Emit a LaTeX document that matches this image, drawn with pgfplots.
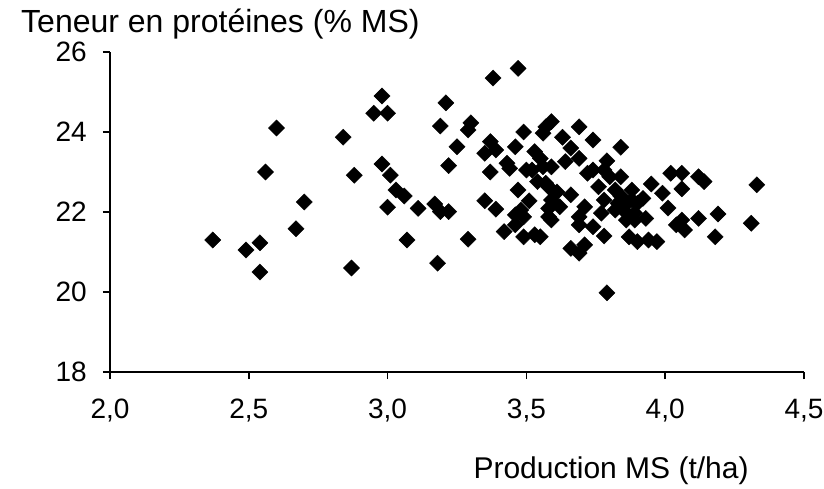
\documentclass[border=0pt]{standalone}
\usepackage{fontspec}
\setmainfont{Liberation Sans}
\usepackage{pgfplots}
\pgfplotsset{compat=1.18}
\begin{document}
\fontsize{30}{36}\selectfont
\begin{tikzpicture}
  \begin{axis}[
    scale only axis,
    width=694pt, height=320pt,
    xmin=2, xmax=4.5, ymin=18, ymax=26,
    xtick={2,2.5,...,4.5}, ytick={18,20,...,26},
    axis x line=bottom, axis y line=left,
    axis line style={-, line width=1.6pt},
    every tick/.style={black, line width=1.6pt},
    tick align=outside, major tick length=7pt,
    tick label style={font=\fontsize{28}{34}\selectfont},
    xticklabel style={/pgf/number format/use comma, /pgf/number format/fixed,
      /pgf/number format/fixed zerofill, /pgf/number format/precision=1,
      /pgf/number format/assume math mode=true, yshift=-10pt},
    yticklabel style={/pgf/number format/assume math mode=true, xshift=-6pt},
    xlabel={Production MS (t/ha)},
    xlabel style={at={(rel axis cs:0.722,0)}, anchor=base, yshift=-106pt},
    ylabel={Teneur en protéines (\% MS)},
    ylabel style={rotate=-90, at={(rel axis cs:0,1)}, anchor=base west, xshift=-99pt, yshift=20pt,
      font=\fontsize{32}{38}\selectfont},
    clip=false,
  ]
    \addplot[only marks, mark=square*, mark size=5.7pt, mark options={rotate=45, fill=black, draw=black}]
    table {
x y
2.37 21.30
2.49 21.05
2.54 21.23
2.54 20.50
2.56 23.00
2.60 24.10
2.67 21.58
2.70 22.25
2.84 23.87
2.87 20.60
2.88 22.92
2.95 24.47
2.98 24.90
3.00 24.47
2.98 23.20
3.01 22.92
3.00 22.12
3.03 22.55
3.06 22.40
3.07 21.30
3.11 22.09
3.17 22.20
3.19 22.01
3.22 22.01
3.18 20.72
3.19 24.15
3.21 24.73
3.22 23.16
3.25 23.63
3.29 21.32
3.29 24.05
3.30 24.23
3.35 22.28
3.39 22.07
3.37 23.76
3.39 23.55
3.35 23.47
3.37 23.00
3.46 23.63
3.43 23.22
3.44 23.09
3.49 24.00
3.57 24.13
3.59 24.26
3.53 23.51
3.52 23.05
3.56 23.13
3.47 22.55
3.38 25.35
3.47 25.59
3.51 22.28
3.46 21.93
3.49 21.88
3.42 21.51
3.46 21.68
3.49 21.38
3.53 21.43
3.58 21.88
3.59 22.30
3.58 22.63
3.54 22.76
3.69 24.13
3.74 23.80
3.63 23.87
3.84 23.62
3.66 23.60
3.69 23.34
3.79 23.28
3.64 23.26
3.56 23.97
3.55 23.34
3.50 23.05
3.59 23.13
3.74 23.05
3.72 22.97
3.78 23.05
3.84 22.88
3.80 22.88
3.88 22.55
3.82 22.55
3.76 22.63
3.90 22.22
3.83 22.22
3.78 22.30
3.66 22.43
3.57 22.72
3.62 22.13
3.71 22.13
3.69 21.88
3.77 21.97
3.48 22.05
3.95 22.70
3.99 22.47
4.01 22.10
4.02 22.97
4.06 22.97
4.12 22.88
4.14 22.76
4.06 22.58
4.33 22.68
4.06 21.80
4.07 21.55
4.12 21.84
4.19 21.95
4.18 21.38
4.31 21.72
3.92 22.34
3.88 22.30
3.85 22.05
3.89 21.80
3.79 19.98
3.69 20.97
3.66 21.09
3.71 21.18
3.74 21.63
3.69 21.68
3.78 21.40
3.59 21.80
3.58 22.09
3.55 21.38
3.87 21.38
3.90 21.26
3.94 21.30
3.97 21.26
3.86 21.80
3.89 21.97
3.93 21.84
3.82 22.05
3.85 22.13
4.04 21.68
3.84 22.40
3.61 22.50
    };
  \end{axis}
  \pgfresetboundingbox
  \useasboundingbox (-110pt,-116pt) rectangle (714pt,372pt);
\end{tikzpicture}
\end{document}
